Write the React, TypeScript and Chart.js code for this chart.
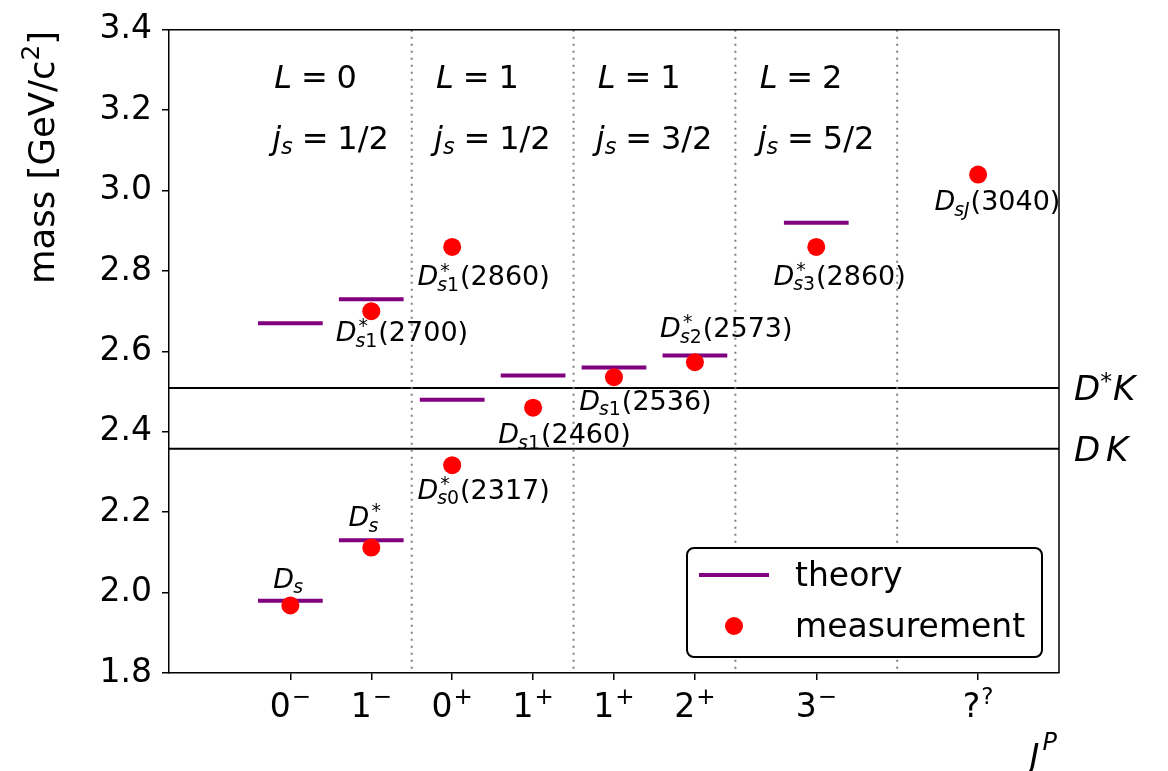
import React, { useEffect, useRef } from 'react';
import { Chart, registerables } from 'chart.js';

Chart.register(...registerables);

const FAMILY = "'DejaVu Sans', sans-serif";

// J^P columns on the x axis
const JP_POS = [0, 1, 2, 3, 4, 5, 6.5, 8.5];
const JP_J = ['0', '1', '0', '1', '1', '2', '3', '?'];
const JP_P = ['\u2212', '\u2212', '+', '+', '+', '+', '\u2212', '?'];

// dotted separators between multiplets
const MULTIPLET_EDGES = [1.5, 3.5, 5.5, 7.5];

// multiplet headers
const MULTIPLET_X = [-0.2, 1.8, 3.8, 5.8];
const MULTIPLET_L = ['0', '1', '1', '2'];
const MULTIPLET_JS = ['1/2', '1/2', '3/2', '5/2'];
const HEADER_L_Y = 3.255;
const HEADER_JS_Y = 3.104;

// model predictions [GeV/c^2]
const THEORY_POS = [0, 0, 1, 1, 2, 3, 4, 5, 6.5];
const THEORY_MASS = [1.98, 2.67, 2.13, 2.73, 2.48, 2.54, 2.56, 2.59, 2.92];
const THEORY_HALF_WIDTH = 0.4;

// observed D_s states [GeV/c^2]
const STATE_POS = [0, 1, 1, 2, 2, 3, 4, 5, 6.5, 8.5];
const STATE_MASS = [1.968, 2.112, 2.7, 2.86, 2.317, 2.46, 2.536, 2.573, 2.86, 3.04];
const STATE_SUP = ['', '*', '*', '*', '*', '', '', '*', '*', ''];
const STATE_SUB = ['s', 's', 's1', 's1', 's0', 's1', 's1', 's2', 's3', 'sJ'];
const STATE_SHOW_MASS = [false, false, true, true, true, true, true, true, true, true];
// label anchor relative to each state (left edge, baseline) in axis units
const STATE_LABEL_DX = [-0.21, -0.28, -0.44, -0.43, -0.43, -0.43, -0.43, -0.43, -0.53, -0.54];
const STATE_LABEL_DY = [0.044, 0.053, -0.075, -0.096, -0.084, -0.089, -0.081, 0.062, -0.094, -0.089];

// two-meson thresholds [GeV/c^2]
const THRESHOLD_MASS = [2.509, 2.358];
const THRESHOLD_SUP = ['*', ''];

const font = (size: number, italic = false) => `${italic ? 'italic ' : ''}${size}px ${FAMILY}`;

type Piece = { t: string; size: number; it?: boolean; rise?: number; pad?: number };

function piecesWidth(ctx: CanvasRenderingContext2D, pieces: Piece[]) {
  let w = 0;
  for (const p of pieces) {
    ctx.font = font(p.size, p.it);
    w += ctx.measureText(p.t).width + (p.pad || 0);
  }
  return w;
}

function drawPieces(ctx: CanvasRenderingContext2D, pieces: Piece[], x: number, y: number) {
  let cx = x;
  for (const p of pieces) {
    ctx.font = font(p.size, p.it);
    ctx.fillText(p.t, cx, y - (p.rise || 0));
    cx += ctx.measureText(p.t).width + (p.pad || 0);
  }
  return cx;
}

// letters italic, digits and symbols upright (math style)
function mathPieces(str: string, size: number, rise = 0): Piece[] {
  return str.split('').map((ch) => ({ t: ch, size, it: /[A-Za-z]/.test(ch), rise }));
}

function drawStateLabel(
  ctx: CanvasRenderingContext2D,
  x: number,
  y: number,
  sup: string,
  sub: string,
  tag: string
) {
  const S = 27;
  const s = S * 0.7;
  ctx.font = font(S, true);
  ctx.fillText('D', x, y);
  const cx = x + ctx.measureText('D').width;
  let supW = 0;
  if (sup) {
    ctx.font = font(s);
    ctx.fillText(sup, cx + 2, y - S * 0.33);
    supW = ctx.measureText(sup).width + 2;
  }
  const subEnd = drawPieces(ctx, mathPieces(sub, s), cx - 1, y + S * 0.2);
  const subW = subEnd - cx;
  if (tag) {
    ctx.font = font(S);
    ctx.fillText(tag, cx + Math.max(supW, subW) + 1, y);
  }
}

function roundRectPath(ctx: CanvasRenderingContext2D, x: number, y: number, w: number, h: number, r: number) {
  ctx.beginPath();
  ctx.moveTo(x + r, y);
  ctx.lineTo(x + w - r, y);
  ctx.arcTo(x + w, y, x + w, y + r, r);
  ctx.lineTo(x + w, y + h - r);
  ctx.arcTo(x + w, y + h, x + w - r, y + h, r);
  ctx.lineTo(x + r, y + h);
  ctx.arcTo(x, y + h, x, y + h - r, r);
  ctx.lineTo(x, y + r);
  ctx.arcTo(x, y, x + r, y, r);
  ctx.closePath();
}

const overlay = {
  id: 'overlay',
  beforeDatasetsDraw(chart: any) {
    const ctx: CanvasRenderingContext2D = chart.ctx;
    const ca = chart.chartArea;
    const xs = chart.scales.x;
    const ys = chart.scales.y;
    ctx.save();
    // thresholds
    ctx.strokeStyle = '#000';
    ctx.lineWidth = 2;
    for (const m of THRESHOLD_MASS) {
      const py = ys.getPixelForValue(m);
      ctx.beginPath();
      ctx.moveTo(ca.left, py);
      ctx.lineTo(ca.right, py);
      ctx.stroke();
    }
    // multiplet separators
    ctx.strokeStyle = '#808080';
    ctx.lineWidth = 2;
    ctx.setLineDash([2, 5]);
    for (const e of MULTIPLET_EDGES) {
      const px = xs.getPixelForValue(e);
      ctx.beginPath();
      ctx.moveTo(px, ca.top);
      ctx.lineTo(px, ca.bottom);
      ctx.stroke();
    }
    ctx.restore();
  },
  afterDatasetsDraw(chart: any) {
    const ctx: CanvasRenderingContext2D = chart.ctx;
    const ca = chart.chartArea;
    const xs = chart.scales.x;
    const ys = chart.scales.y;
    ctx.save();
    ctx.fillStyle = '#000';
    ctx.textAlign = 'left';
    ctx.textBaseline = 'alphabetic';

    // top and right spines
    ctx.strokeStyle = '#000';
    ctx.lineWidth = 1.5;
    ctx.beginPath();
    ctx.moveTo(ca.left, ca.top);
    ctx.lineTo(ca.right, ca.top);
    ctx.lineTo(ca.right, ca.bottom);
    ctx.stroke();

    // state names
    STATE_POS.forEach((p, i) => {
      const lx = xs.getPixelForValue(p + STATE_LABEL_DX[i]);
      const ly = ys.getPixelForValue(STATE_MASS[i] + STATE_LABEL_DY[i]);
      const tag = STATE_SHOW_MASS[i] ? `(${Math.round(STATE_MASS[i] * 1000)})` : '';
      drawStateLabel(ctx, lx, ly, STATE_SUP[i], STATE_SUB[i], tag);
    });

    // multiplet headers
    const H = 32;
    const thick = H * 0.278;
    MULTIPLET_X.forEach((mx, i) => {
      const px = xs.getPixelForValue(mx);
      drawPieces(
        ctx,
        [
          { t: 'L', size: H, it: true, pad: thick },
          { t: '=', size: H, pad: thick },
          { t: MULTIPLET_L[i], size: H },
        ],
        px,
        ys.getPixelForValue(HEADER_L_Y)
      );
      drawPieces(
        ctx,
        [
          { t: 'j', size: H, it: true },
          { t: 's', size: H * 0.7, it: true, rise: -H * 0.17, pad: thick },
          { t: '=', size: H, pad: thick },
          { t: MULTIPLET_JS[i], size: H },
        ],
        px - 2,
        ys.getPixelForValue(HEADER_JS_Y)
      );
    });

    // threshold names, right of the frame
    THRESHOLD_MASS.forEach((m, i) => {
      const T = 34;
      const by = ys.getPixelForValue(m) + T * 0.365;
      const pieces: Piece[] = [{ t: 'D', size: T, it: true, pad: THRESHOLD_SUP[i] ? 0 : T * 0.17 }];
      if (THRESHOLD_SUP[i]) pieces.push({ t: THRESHOLD_SUP[i], size: T * 0.7, rise: T * 0.33, pad: 1 });
      pieces.push({ t: 'K', size: T, it: true });
      drawPieces(ctx, pieces, ca.right + 15, by);
    });

    // x tick labels with parity superscripts
    JP_POS.forEach((p, i) => {
      const pieces: Piece[] = [
        { t: JP_J[i], size: 33, pad: 1 },
        { t: JP_P[i], size: 23, rise: 13 },
      ];
      const w = piecesWidth(ctx, pieces);
      drawPieces(ctx, pieces, xs.getPixelForValue(p) - w / 2, ca.bottom + 44);
    });

    // x axis title J^P, right aligned
    {
      const pieces: Piece[] = [
        { t: 'J', size: 34, it: true, pad: 3 },
        { t: 'P', size: 24, it: true, rise: 18 },
      ];
      const w = piecesWidth(ctx, pieces);
      drawPieces(ctx, pieces, ca.right - w - 2, 768);
    }

    // y axis title, top aligned
    {
      const Y = 35.5;
      const pieces: Piece[] = [
        { t: 'mass [GeV/c', size: Y },
        { t: '2', size: Y * 0.7, rise: Y * 0.42 },
        { t: ']', size: Y },
      ];
      const w = piecesWidth(ctx, pieces);
      ctx.save();
      ctx.translate(54, ca.top + 1);
      ctx.rotate(-Math.PI / 2);
      drawPieces(ctx, pieces, -w, 0);
      ctx.restore();
    }

    // legend
    {
      const bx = ca.right - 372;
      const by = ca.bottom - 125;
      roundRectPath(ctx, bx, by, 355, 109, 7);
      ctx.fillStyle = '#fff';
      ctx.fill();
      ctx.strokeStyle = '#000';
      ctx.lineWidth = 2;
      ctx.stroke();
      ctx.strokeStyle = 'purple';
      ctx.lineWidth = 4;
      ctx.beginPath();
      ctx.moveTo(bx + 12, by + 27);
      ctx.lineTo(bx + 82, by + 27);
      ctx.stroke();
      ctx.fillStyle = 'red';
      ctx.beginPath();
      ctx.arc(bx + 47, by + 78, 9, 0, Math.PI * 2);
      ctx.fill();
      ctx.fillStyle = '#000';
      ctx.font = font(33);
      ctx.fillText('theory', bx + 108, by + 38);
      ctx.fillText('measurement', bx + 108, by + 89);
    }
    ctx.restore();
  },
};

export default function App() {
  const ref = useRef<HTMLCanvasElement>(null);

  useEffect(() => {
    const canvas = ref.current;
    if (!canvas) return;

    const theoryData: { x: number; y: number | null }[] = [];
    THEORY_POS.forEach((p, i) => {
      theoryData.push({ x: p - THEORY_HALF_WIDTH, y: THEORY_MASS[i] });
      theoryData.push({ x: p + THEORY_HALF_WIDTH, y: THEORY_MASS[i] });
      theoryData.push({ x: p + THEORY_HALF_WIDTH, y: null });
    });
    const stateData = STATE_POS.map((p, i) => ({ x: p, y: STATE_MASS[i] }));

    const chart = new Chart(canvas, {
      type: 'scatter',
      data: {
        datasets: [
          {
            label: 'measurement',
            data: stateData,
            pointRadius: 9,
            pointHoverRadius: 9,
            backgroundColor: 'red',
            borderWidth: 0,
            order: 0,
          },
          {
            label: 'theory',
            data: theoryData as any,
            showLine: true,
            spanGaps: false,
            borderColor: 'purple',
            borderWidth: 4,
            borderCapStyle: 'butt',
            pointRadius: 0,
            pointHoverRadius: 0,
            fill: false,
            order: 1,
          } as any,
        ],
      },
      plugins: [overlay],
      options: {
        responsive: false,
        animation: false,
        events: [],
        layout: { padding: { top: 25, right: 109, bottom: 0, left: 0 } },
        plugins: {
          legend: { display: false },
          tooltip: { enabled: false },
        },
        scales: {
          x: {
            type: 'linear',
            min: -1.5,
            max: 9.5,
            afterBuildTicks: (s: any) => {
              s.ticks = JP_POS.map((v) => ({ value: v }));
            },
            afterFit: (s: any) => {
              s.height = 98;
            },
            ticks: { autoSkip: false, callback: () => '' },
            grid: {
              drawOnChartArea: false,
              drawTicks: true,
              tickLength: 7,
              color: '#000',
              lineWidth: 1.5,
            },
            border: { display: true, color: '#000', width: 1.5 },
          },
          y: {
            type: 'linear',
            min: 1.8,
            max: 3.4,
            afterFit: (s: any) => {
              s.width = 169;
            },
            ticks: {
              stepSize: 0.2,
              callback: (v: any) => Number(v).toFixed(1),
              font: { size: 33, family: FAMILY },
              color: '#000',
              padding: 10,
            },
            grid: {
              drawOnChartArea: false,
              drawTicks: true,
              tickLength: 7,
              color: '#000',
              lineWidth: 1.5,
            },
            border: { display: true, color: '#000', width: 1.5 },
          },
        },
      } as any,
    });

    return () => chart.destroy();
  }, []);

  return (
    <div style={{ position: 'absolute', left: 0, top: 0, width: 1168, height: 771, background: '#fff' }}>
      <canvas ref={ref} width={1168} height={771} style={{ display: 'block' }} />
    </div>
  );
}
